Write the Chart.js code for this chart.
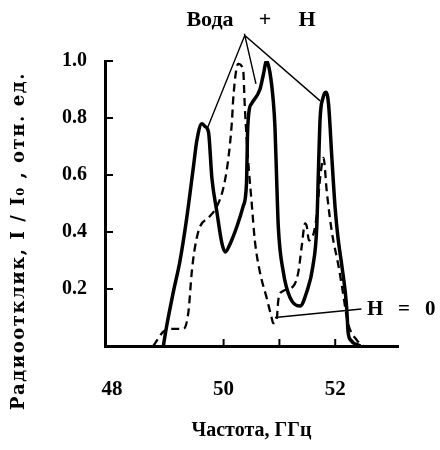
<!DOCTYPE html>
<html>
<head>
<meta charset="utf-8">
<script src="https://cdn.jsdelivr.net/npm/chart.js@4"></script>
<style>
  html, body { margin: 0; padding: 0; background: #fff; }
  #wrap { width: 440px; height: 450px; }
</style>
</head>
<body>
<div id="wrap"><canvas id="chart" width="440" height="450"></canvas></div>
<script>
// response with field (solid) and without field H = 0 (dashed)
const solidFreq = [48.92, 48.98, 49.10, 49.22, 49.34, 49.46, 49.52, 49.61, 49.67, 49.73, 49.79, 49.88, 49.97, 50.03, 50.12, 50.24, 50.35, 50.41, 50.43, 50.46, 50.50, 50.65, 50.71, 50.77, 50.83, 50.89, 50.92, 50.95, 50.98, 51.07, 51.19, 51.37, 51.49, 51.60, 51.67, 51.70, 51.73, 51.78, 51.83, 51.88, 51.94, 52.00, 52.05, 52.12, 52.18, 52.21, 52.23, 52.28, 52.45];
const solidResp = [0.00, 0.07, 0.19, 0.30, 0.45, 0.63, 0.72, 0.78, 0.77, 0.75, 0.59, 0.47, 0.36, 0.33, 0.36, 0.42, 0.49, 0.57, 0.75, 0.83, 0.85, 0.90, 0.95, 1.00, 0.96, 0.86, 0.77, 0.59, 0.42, 0.26, 0.17, 0.14, 0.19, 0.28, 0.42, 0.62, 0.80, 0.87, 0.89, 0.85, 0.66, 0.48, 0.38, 0.28, 0.19, 0.12, 0.05, 0.02, 0.00];

const dashFreq = [48.74, 48.92, 49.10, 49.28, 49.37, 49.43, 49.49, 49.58, 49.73, 49.88, 49.99, 50.08, 50.15, 50.17, 50.22, 50.26, 50.35, 50.38, 50.44, 50.50, 50.56, 50.65, 50.77, 50.86, 50.89, 50.95, 50.98, 51.04, 51.25, 51.34, 51.40, 51.46, 51.49, 51.53, 51.58, 51.62, 51.67, 51.73, 51.79, 51.85, 51.94, 52.06, 52.12, 52.23, 52.39, 52.50];
const dashResp = [0.00, 0.05, 0.06, 0.06, 0.12, 0.26, 0.35, 0.42, 0.45, 0.49, 0.55, 0.65, 0.79, 0.86, 0.96, 0.99, 0.97, 0.84, 0.65, 0.51, 0.37, 0.26, 0.17, 0.10, 0.08, 0.09, 0.16, 0.19, 0.21, 0.26, 0.35, 0.43, 0.42, 0.37, 0.38, 0.40, 0.46, 0.59, 0.66, 0.54, 0.40, 0.28, 0.21, 0.08, 0.02, 0.00];

// callout lines ("Вода + H" to the three peaks, and "H = 0")
const fieldCalloutFreq = [49.70, 50.38, 50.58, 50.38, 51.73];
const fieldCalloutResp = [0.76, 1.09, 0.92, 1.09, 0.86];
const zeroCalloutFreq = [50.92, 52.47];
const zeroCalloutResp = [0.10, 0.13];

const xTickLabels = [48, 50, 52];
const xTickMarks = [50, 51, 52];
const yTickValues = [0.2, 0.4, 0.6, 0.8, 1.0];

const toPts = (xs, ys) => xs.map((x, i) => ({ x: x, y: ys[i] }));

const serifBold = "'Liberation Serif', 'Times New Roman', serif";

const extras = {
  id: "extras",
  afterDraw(chart) {
    const ctx = chart.ctx;
    const xs = chart.scales.x, ys = chart.scales.y;
    const area = chart.chartArea;
    ctx.save();
    ctx.strokeStyle = "#000";
    ctx.lineWidth = 2;
    // inward ticks
    yTickValues.forEach((v) => {
      const py = ys.getPixelForValue(v);
      ctx.beginPath();
      ctx.moveTo(area.left, py);
      ctx.lineTo(area.left + 8, py);
      ctx.stroke();
    });
    xTickMarks.forEach((v) => {
      const px = xs.getPixelForValue(v);
      ctx.beginPath();
      ctx.moveTo(px, area.bottom);
      ctx.lineTo(px, area.bottom - 7);
      ctx.stroke();
    });

    ctx.fillStyle = "#000";
    ctx.textBaseline = "middle";
    ctx.textAlign = "center";
    ctx.font = "bold 22px " + serifBold;
    ctx.fillText("Вода", 210, 20);
    ctx.fillText("+", 265, 20);
    ctx.fillText("H", 307, 20);

    ctx.font = "bold 21px " + serifBold;
    ctx.textAlign = "left";
    ctx.fillText("H", 367, 310);
    ctx.fillText("=", 398, 310);
    ctx.fillText("0", 425, 310);

    // y axis title, in a wide serif like the typewriter original
    const yTitle = "Радиоотклик, I / I\u2080 , отн. ед.";
    ctx.font = "bold 18px 'DejaVu Serif', serif";
    const w = ctx.measureText(yTitle).width;
    const target = 338;
    ctx.letterSpacing = Math.max(0, (target - w) / yTitle.length) + "px";
    ctx.translate(19, 241);
    ctx.rotate(-Math.PI / 2);
    ctx.textAlign = "center";
    ctx.fillText(yTitle, 0, 0);
    ctx.restore();
  }
};

new Chart(document.getElementById("chart"), {
  type: "line",
  data: {
    datasets: [
      {
        data: toPts(solidFreq, solidResp),
        borderColor: "#000",
        borderWidth: 3.5,
        pointRadius: 0,
        cubicInterpolationMode: "monotone",
        fill: false
      },
      {
        data: toPts(dashFreq, dashResp),
        borderColor: "#000",
        borderWidth: 2.3,
        borderDash: [8, 5],
        pointRadius: 0,
        cubicInterpolationMode: "monotone",
        fill: false
      },
      {
        data: toPts(fieldCalloutFreq, fieldCalloutResp),
        borderColor: "#000",
        borderWidth: 1.4,
        pointRadius: 0,
        tension: 0,
        clip: false
      },
      {
        data: toPts(zeroCalloutFreq, zeroCalloutResp),
        borderColor: "#000",
        borderWidth: 1.4,
        pointRadius: 0,
        tension: 0,
        clip: false
      }
    ]
  },
  options: {
    responsive: false,
    animation: false,
    layout: { padding: { left: 62, right: 42, top: 61, bottom: 0 } },
    plugins: {
      legend: { display: false },
      tooltip: { enabled: false }
    },
    scales: {
      x: {
        type: "linear",
        min: 47.875,
        max: 53.125,
        afterBuildTicks: (scale) => {
          scale.ticks = xTickLabels.map((v) => ({ value: v }));
        },
        afterFit: (scale) => { scale.height = 104; },
        grid: { display: true, drawOnChartArea: false, drawTicks: false },
        border: { display: true, color: "#000", width: 3 },
        ticks: {
          padding: 31,
          color: "#000",
          maxRotation: 0,
          font: { family: serifBold, size: 21, weight: "bold" },
          callback: (v) => String(v)
        },
        title: {
          display: true,
          text: "Частота, ГГц",
          color: "#000",
          font: { family: serifBold, size: 20, weight: "bold" },
          padding: { top: 0, bottom: 7 }
        }
      },
      y: {
        min: 0,
        max: 1.0,
        afterBuildTicks: (scale) => {
          scale.ticks = yTickValues.map((v) => ({ value: v }));
        },
        afterFit: (scale) => { scale.width = 43; },
        grid: { display: true, drawOnChartArea: false, drawTicks: false },
        border: { display: true, color: "#000", width: 3 },
        ticks: {
          crossAlign: "far",
          color: "#000",
          font: { family: serifBold, size: 20, weight: "bold" },
          callback: (v) => v.toFixed(1)
        }
      }
    }
  },
  plugins: [extras]
});
</script>
</body>
</html>
